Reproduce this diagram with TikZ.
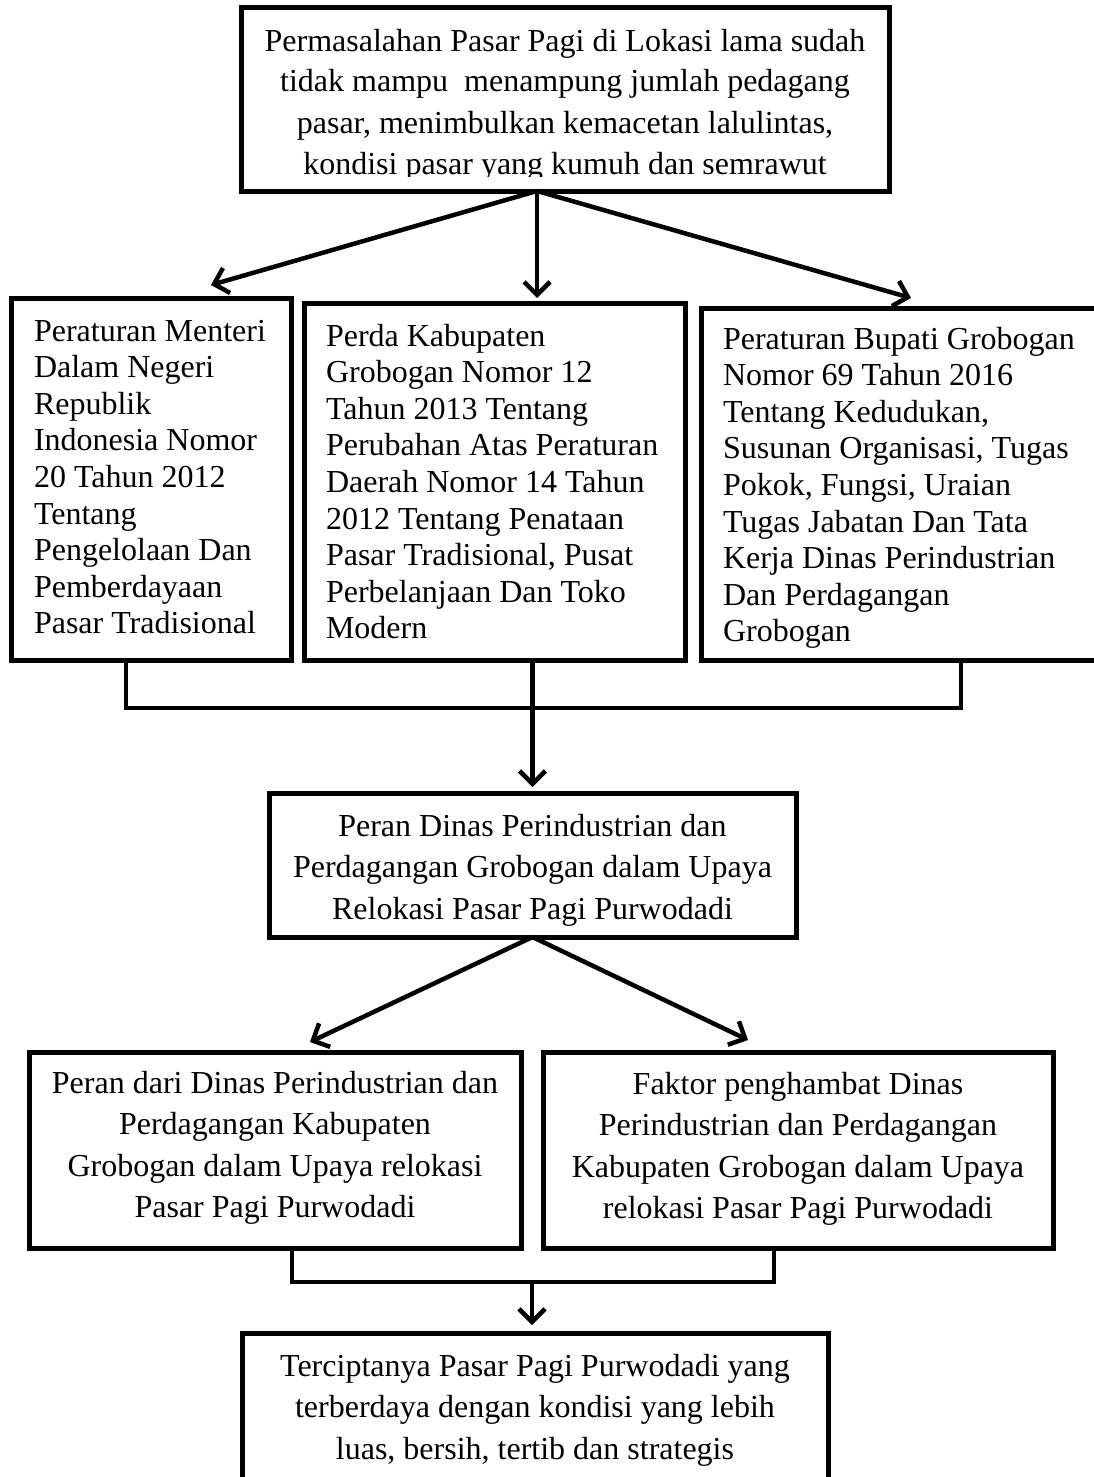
\documentclass[tikz,border=0pt]{standalone}
\usepackage{fontspec}
\setmainfont{Liberation Serif}
\usetikzlibrary{arrows.meta,calc}
\tikzset{
  box/.style={draw=black, line width=5pt, fill=white, inner sep=0pt, outer sep=0pt},
  conn/.style={draw=black, line width=4.5pt, line join=miter},
  arr/.style={draw=black, line width=4.5pt, -{Straight Barb[length=13pt,width=26pt]}},
  txt/.style={inner sep=0pt, outer sep=0pt},
  fA/.style={font=\fontsize{32}{41}\selectfont},
  fB/.style={font=\fontsize{32}{36.6}\selectfont},
  fC/.style={font=\fontsize{32}{41.6}\selectfont},
}
\newcommand{\firstln}{\rule{0pt}{24pt}}
\begin{document}
\begin{tikzpicture}[x=1pt,y=-1pt]
\clip (0,0) rectangle (1094,1477);
\fill[white] (0,0) rectangle (1094,1477);

% boxes
\node[box, minimum width=648pt, minimum height=183pt] (top) at (565,99.5) {};
\node[box, minimum width=280pt, minimum height=362pt] (b1) at (151,479) {};
\node[box, minimum width=381pt, minimum height=357pt] (b2) at (494.5,481.5) {};
\node[box, minimum width=414pt, minimum height=352pt] (b3) at (908,484) {};
\node[box, minimum width=527pt, minimum height=144pt] (mid) at (532.5,865) {};
\node[box, minimum width=492pt, minimum height=196pt] (bL) at (275,1150) {};
\node[box, minimum width=510pt, minimum height=196pt] (bR) at (798,1150) {};
\node[box, minimum width=586pt, minimum height=177pt] (bot) at (535,1421.5) {};

% texts
\begin{scope}
\clip (241,8) rectangle (889,176);
\node[txt, fA, anchor=north, align=center] (t0) at (565,27)
 {\firstln Permasalahan Pasar Pagi di Lokasi lama sudah\\
  tidak mampu\ \ menampung jumlah pedagang\\
  pasar, menimbulkan kemacetan lalulintas,\\
  kondisi pasar yang kumuh dan semrawut};
\end{scope}

\node[txt, fB, anchor=north west, align=left] (t1) at (34,317)
 {\firstln Peraturan Menteri\\ Dalam Negeri\\ Republik\\ Indonesia Nomor\\ 20 Tahun 2012\\
  Tentang\\ Pengelolaan Dan\\ Pemberdayaan\\ Pasar Tradisional};
\node[txt, fB, anchor=north west, align=left] (t2) at (326,322)
 {\firstln Perda Kabupaten\\ Grobogan Nomor 12\\ Tahun 2013 Tentang\\ Perubahan Atas Peraturan\\
  Daerah Nomor 14 Tahun\\ 2012 Tentang Penataan\\ Pasar Tradisional, Pusat\\ Perbelanjaan Dan Toko\\ Modern};
\node[txt, fB, anchor=north west, align=left] (t3) at (723,325)
 {\firstln Peraturan Bupati Grobogan\\ Nomor 69 Tahun 2016\\ Tentang Kedudukan,\\ Susunan Organisasi, Tugas\\
  Pokok, Fungsi, Uraian\\ Tugas Jabatan Dan Tata\\ Kerja Dinas Perindustrian\\ Dan Perdagangan\\ Grobogan};

\node[txt, fC, anchor=north, align=center] (tm) at (532.5,812)
 {\firstln Peran Dinas Perindustrian dan\\ Perdagangan Grobogan dalam Upaya\\ Relokasi Pasar Pagi Purwodadi};
\node[txt, fC, anchor=north, align=center] (tL) at (275,1069)
 {\firstln Peran dari Dinas Perindustrian dan\\ Perdagangan Kabupaten\\ Grobogan dalam Upaya relokasi\\ Pasar Pagi Purwodadi};
\node[txt, fC, anchor=north, align=center] (tR) at (798,1070)
 {\firstln Faktor penghambat Dinas\\ Perindustrian dan Perdagangan\\ Kabupaten Grobogan dalam Upaya\\ relokasi Pasar Pagi Purwodadi};
\node[txt, fC, anchor=north, align=center] (tb) at (535,1352)
 {\firstln Terciptanya Pasar Pagi Purwodadi yang\\ terberdaya dengan kondisi yang lebih\\ luas, bersih, tertib dan strategis};

% connectors: top to three regulations
\coordinate (ts) at ($(top.south)+(-28,0)$);
\draw[arr] (ts) -- ($(b1.north)+(60,-13)$);
\draw[arr] (ts) -- ($(b2.north)+(42.5,-5)$);
\draw[arr] (ts) -- ($(b3.north)+(3,-10)$);

% regulations join to middle box
\draw[conn] ($(b1.south)+(-25,0)$) -- ++(0,48) -| ($(b3.south)+(53,0)$);
\draw[arr] (b2.south -| mid.north) -- ($(mid.north)+(0,-6)$);

% middle box to two boxes
\draw[arr] (mid.south) -- ($(bL.north)+(35,-10)$);
\draw[arr] (mid.south) -- ($(bR.north)+(-50,-12)$);

% two boxes join to bottom box
\draw[conn] ($(bL.south)+(17,0)$) -- ++(0,34) -| ($(bR.south)+(-24,0)$);
\coordinate (j2) at ($(bot.north)+(-3,-51)$);
\draw[arr] (j2) -- ($(bot.north)+(-3,-8)$);
\end{tikzpicture}
\end{document}
